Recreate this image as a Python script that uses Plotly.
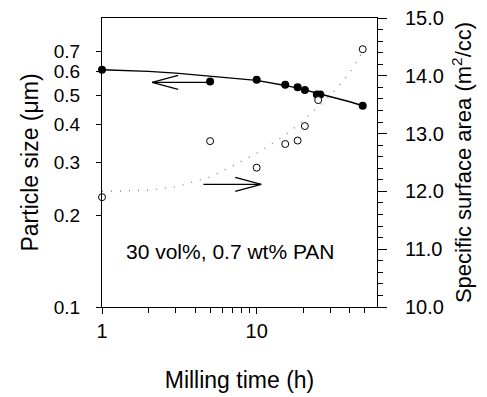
import math
import plotly.graph_objects as go

# ---- data ----
time_filled = [1, 5, 10, 15.3, 18.4, 20.5, 24.5, 25.8, 48.5]
size_filled = [0.607, 0.555, 0.563, 0.542, 0.532, 0.521, 0.503, 0.503, 0.462]

time_open = [1, 5, 10, 15.3, 18.4, 20.5, 25, 48.5]
area_open = [11.90, 12.87, 12.41, 12.82, 12.88, 13.13, 13.58, 14.46]

size_fit_t = [1, 2, 3, 5, 7, 10, 15, 20, 25, 30, 40, 48.5]
size_fit = [0.607, 0.600, 0.592, 0.578, 0.569, 0.560, 0.540, 0.523, 0.507, 0.495, 0.476, 0.462]

area_fit_t = [1, 2, 3, 5, 7, 10, 12, 15, 20, 30, 40, 48.5]
area_fit = [12.0, 12.02, 12.08, 12.25, 12.44, 12.66, 12.79, 12.96, 13.22, 13.66, 14.05, 14.42]

x_major = [1, 10]
x_minor = [2, 3, 4, 5, 6, 7, 8, 9, 20, 30, 40, 50]
y_ticks = [0.1, 0.2, 0.3, 0.4, 0.5, 0.6, 0.7]
y_ticktext = ["0.1", "0.2", "0.3", "0.4", "0.5", "0.6", "0.7"]

FONT = "Liberation Sans, Arial, sans-serif"

W, H = 487, 397
ML, MR, MT, MB = 102, 110, 18, 90
PW, PH = W - ML - MR, H - MT - MB
XR = [0, math.log10(60)]
YR = [-1, math.log10(0.9)]
Y2R = [10, 15]

fig = go.Figure()

fig.add_trace(go.Scatter(x=area_fit_t, y=area_fit, yaxis="y2", mode="lines",
                         line=dict(color="#8a8a8a", width=1.4, dash="1px,8px"),
                         hoverinfo="skip", cliponaxis=False))
fig.add_trace(go.Scatter(x=size_fit_t, y=size_fit, mode="lines",
                         line=dict(color="black", width=1.4),
                         hoverinfo="skip", cliponaxis=False))
fig.add_trace(go.Scatter(x=time_open, y=area_open, yaxis="y2", mode="markers",
                         marker=dict(symbol="circle", size=7, color="white",
                                     line=dict(color="black", width=1)),
                         cliponaxis=False))
fig.add_trace(go.Scatter(x=time_filled, y=size_filled, mode="markers",
                         marker=dict(symbol="circle", size=8, color="black",
                                     line=dict(color="black", width=0)),
                         cliponaxis=False))

# ---- arrows (paper coords derived from the axis ranges) ----
def px_x(x):
    return (math.log10(x) - XR[0]) / (XR[1] - XR[0])

def py_left(y):
    return (math.log10(y) - YR[0]) / (YR[1] - YR[0])

def py_right(y):
    return (y - Y2R[0]) / (Y2R[1] - Y2R[0])

shapes = []
def arrow(x_tail, x_tip, yp, direction):
    xt, xh = px_x(x_tail), px_x(x_tip)
    ln = dict(color="black", width=1.3)
    shapes.append(dict(type="line", xref="paper", yref="paper",
                       x0=xt, x1=xh, y0=yp, y1=yp, line=ln))
    bx = xh - direction * 26 / PW
    for s in (1, -1):
        shapes.append(dict(type="line", xref="paper", yref="paper",
                           x0=xh, y0=yp, x1=bx, y1=yp + s * 7 / PH, line=ln))

arrow(5, 2.11, py_left(0.552), -1)
arrow(4.53, 10.7, py_right(12.12), 1)

fig.update_layout(
    width=W, height=H,
    margin=dict(l=ML, r=MR, t=MT, b=MB, autoexpand=False),
    paper_bgcolor="white", plot_bgcolor="white",
    showlegend=False,
    font=dict(family=FONT, color="black", size=19),
    shapes=shapes,
    xaxis=dict(type="log", range=XR, tickmode="array", tickvals=x_major,
               ticktext=["1", "10"], automargin=False,
               ticks="outside", ticklen=6, tickcolor="black", tickwidth=1,
               minor=dict(tickmode="array", tickvals=x_minor, ticks="outside",
                          ticklen=5, tickcolor="black", showgrid=False),
               showline=True, linecolor="black", linewidth=1, mirror=True,
               showgrid=False, zeroline=False, ticklabelstandoff=0,
               tickfont=dict(size=20),
               title=dict(text="Milling time (h)", font=dict(size=23), standoff=30)),
    yaxis=dict(type="log", range=YR, tickvals=y_ticks, ticktext=y_ticktext,
               automargin=False,
               ticks="outside", ticklen=5, tickcolor="black",
               showline=True, linecolor="black", linewidth=1,
               showgrid=False, zeroline=False, ticklabelstandoff=12,
               tickfont=dict(size=19),
               title=dict(text="Particle size (\u03bcm)", font=dict(size=23), standoff=8)),
    yaxis2=dict(overlaying="y", side="right", range=Y2R, dtick=1, automargin=False,
                tickformat=".1f", ticks="outside", ticklen=9, tickcolor="black",
                minor=dict(dtick=0.2, ticks="outside", ticklen=5, tickcolor="black"),
                showline=True, linecolor="black", linewidth=1,
                showgrid=False, zeroline=False, ticklabelstandoff=14,
                tickfont=dict(size=20),
                title=dict(text="Specific surface area (m<sup>2</sup>/cc)",
                           font=dict(size=22), standoff=12)),
    annotations=[dict(text="30 vol%, 0.7 wt% PAN", xref="paper", yref="paper",
                      x=0.469, y=0.144, showarrow=False, font=dict(size=21))],
)

fig.write_html("out.html")
